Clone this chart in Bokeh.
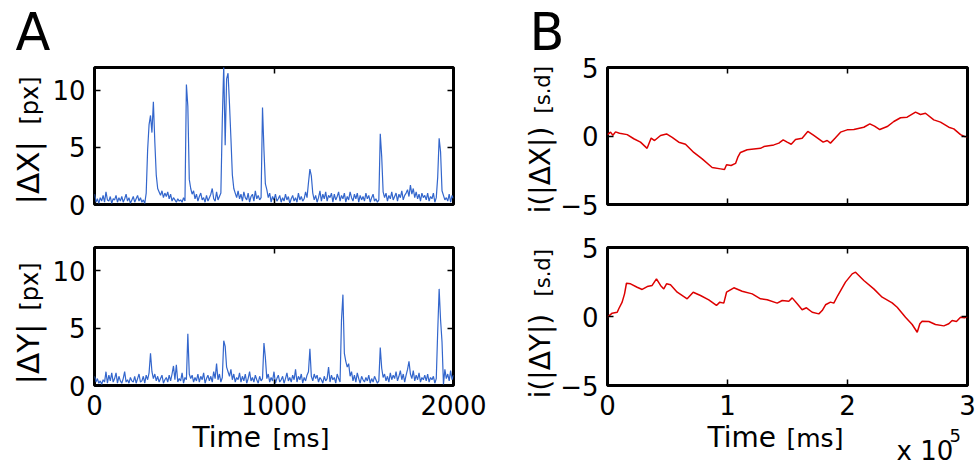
import numpy as np
from bokeh.plotting import figure
from bokeh.layouts import column, row
from bokeh.models import LinearAxis, FixedTicker, Range1d
from bokeh.core.properties import value
from bokeh.embed import file_html
from bokeh.resources import INLINE

FONT = "DejaVu Sans"
BLUE = "#3366cc"
RED = "#dd0000"

# ---------------- data ----------------
sample_step_ms = 8   # |dX|, |dY| sampled every 8 ms, 0..2000 ms

dx_abs = [
    0.9, 0.2, 0.5, 0.1, 0.6, 0.3, 0.8, 0.2, 1.1, 0.4,
    0.3, 0.7, 0.1, 0.5, 0.4, 0.8, 0.2, 0.6, 0.3, 0.7,
    0.2, 0.5, 0.9, 0.3, 0.6, 0.1, 0.4, 0.7, 0.2, 0.5,
    0.8, 0.3, 0.6, 0.2, 0.4, 0.1, 1.0, 4.8, 7.0, 7.8,
    6.3, 9.0, 5.5, 2.6, 1.4, 1.1, 0.8, 1.2, 0.6, 1.0,
    0.7, 1.1, 0.5, 0.9, 0.3, 0.6, 0.4, 0.2, 0.5, 0.3,
    0.4, 0.2, 0.6, 0.3, 10.5, 8.6, 2.2, 1.4, 0.9, 1.2,
    0.5, 0.9, 0.3, 0.7, 1.0, 0.4, 0.6, 0.2, 0.8, 0.3,
    0.6, 0.9, 1.4, 0.5, 0.3, 1.1, 0.4, 0.7, 1.0, 7.4,
    12.2, 5.2, 11.0, 11.5, 8.8, 5.8, 2.6, 1.4, 1.0, 0.6,
    1.2, 0.5, 0.9, 0.3, 1.1, 0.6, 0.4, 1.0, 0.2, 0.7,
    0.9, 0.3, 1.2, 0.5, 0.8, 0.4, 0.6, 8.5, 4.8, 1.8,
    1.3, 0.6, 1.0, 0.2, 0.7, 0.4, 0.9, 0.3, 0.5, 0.8,
    0.2, 0.6, 0.3, 0.9, 0.4, 0.7, 0.1, 0.5, 0.8, 0.3,
    0.6, 0.2, 1.0, 0.4, 0.7, 0.3, 0.5, 1.1, 0.6, 1.9,
    3.1, 2.5, 1.0, 0.4, 0.8, 0.2, 0.6, 1.2, 0.3, 0.9,
    0.5, 1.1, 0.3, 0.8, 0.6, 1.0, 0.2, 0.9, 0.4, 0.7,
    1.1, 0.3, 0.8, 0.5, 1.0, 0.2, 0.7, 0.4, 1.1, 0.6,
    0.3, 0.9, 0.5, 1.0, 0.2, 0.8, 0.4, 0.7, 0.3, 1.0,
    0.5, 0.8, 0.2, 0.6, 0.9, 0.3, 0.5, 0.2, 0.4, 6.2,
    4.2, 1.1, 0.6, 1.0, 0.3, 0.8, 0.5, 1.1, 0.4, 0.7,
    1.0, 0.3, 0.9, 0.6, 1.2, 0.4, 0.8, 1.0, 1.3, 0.7,
    1.7, 0.9, 1.4, 0.6, 1.1, 0.5, 0.9, 0.3, 1.0, 0.6,
    0.8, 0.4, 1.0, 0.3, 0.7, 0.5, 1.0, 0.2, 0.6, 2.4,
    5.8, 4.6, 1.2, 0.8, 0.4, 0.6, 0.3, 0.9, 0.2, 0.8,
    0.5,
]

dy_abs = [
    0.8, 0.3, 0.6, 0.2, 0.4, 0.1, 0.5, 0.3, 1.2, 0.2,
    0.9, 0.4, 1.1, 0.3, 0.6, 1.1, 0.2, 0.8, 0.4, 0.2,
    0.6, 1.2, 0.3, 0.5, 0.2, 0.7, 0.4, 0.3, 0.8, 0.2,
    0.6, 1.0, 0.3, 0.4, 0.8, 0.2, 0.9, 0.5, 1.1, 2.8,
    1.2, 0.6, 1.0, 0.4, 0.8, 0.3, 0.6, 0.9, 0.2, 0.5,
    0.7, 0.3, 0.9, 0.4, 1.0, 1.7, 0.5, 1.8, 0.3, 0.6,
    0.4, 1.1, 0.2, 0.7, 0.5, 4.5, 1.0, 0.6, 0.9, 0.3,
    0.7, 0.4, 1.0, 0.3, 0.8, 0.5, 1.1, 0.2, 0.6, 0.9,
    0.4, 0.8, 0.3, 1.2, 0.6, 1.9, 0.5, 1.0, 0.3, 0.7,
    3.9, 3.4, 1.6, 1.2, 0.8, 1.4, 0.5, 1.0, 0.3, 0.7,
    0.5, 1.1, 0.3, 0.8, 0.4, 1.0, 0.2, 0.6, 1.2, 0.4,
    0.7, 0.3, 0.9, 0.5, 0.2, 0.8, 0.4, 0.6, 3.7, 2.4,
    0.6, 1.0, 0.3, 0.7, 0.4, 1.2, 0.2, 0.6, 0.9, 0.3,
    0.5, 0.8, 0.2, 0.6, 1.1, 0.4, 0.7, 0.3, 0.9, 0.5,
    1.4, 0.3, 0.8, 0.5, 1.0, 0.2, 0.7, 0.4, 0.9, 1.2,
    3.2, 0.8, 0.4, 1.0, 0.6, 0.9, 0.3, 0.7, 0.5, 0.2,
    0.8, 0.4, 0.6, 1.6, 0.3, 0.9, 0.5, 0.7, 0.2, 1.0,
    0.6, 0.3, 5.7, 7.9, 2.8, 2.1, 1.6, 1.9, 0.8, 1.2,
    0.4, 0.9, 0.3, 1.1, 0.6, 0.2, 0.8, 0.5, 0.3, 0.7,
    0.4, 0.9, 0.2, 0.6, 0.3, 0.8, 0.5, 0.2, 0.4, 3.3,
    1.5, 0.7, 1.0, 0.4, 0.8, 0.3, 1.1, 0.5, 0.9, 0.6,
    1.2, 0.4, 0.8, 1.3, 0.5, 1.0, 0.3, 0.9, 1.4, 2.1,
    1.0, 0.6, 1.3, 0.4, 0.9, 0.5, 1.1, 0.3, 0.7, 0.5,
    0.9, 0.4, 1.0, 0.3, 0.7, 0.5, 0.8, 0.2, 0.6, 4.7,
    8.4, 5.7, 3.8, 0.1, 1.4, 0.6, 1.0, 0.4, 1.3, 0.5,
    0.9,
]

ix_t = [0, 2500, 4500, 6700, 10000, 16400, 21900, 27500, 33000, 36400,
        39200, 44200, 49200, 53900, 59400, 65000, 71900, 78900, 87200, 94200,
        97500, 99200, 103000, 106700, 108600, 110800, 116400, 127500, 130300, 138600,
        142800, 146400, 149700, 153100, 156700, 162200, 166900, 171900, 179700, 183100,
        185800, 190000, 194200, 199700, 205300, 213600, 218600, 222500, 226900, 233100,
        238600, 244200, 249700, 256700, 260800, 265000, 271900, 277500, 284400, 288600,
        294200, 297500, 300000]
ix_v = [0.1, 0.28, 0.05, 0.3, 0.2, 0.1, -0.2, -0.45, -0.9, -0.15,
        -0.33, 0.04, 0.15, -0.1, -0.45, -0.6, -1.2, -1.67, -2.3, -2.4,
        -2.45, -2.1, -2.15, -2.0, -1.55, -1.2, -1.0, -0.9, -0.77, -0.65,
        -0.52, -0.28, -0.45, -0.6, -0.26, -0.16, 0.33, 0.04, -0.45, -0.33,
        -0.52, -0.13, 0.28, 0.45, 0.47, 0.64, 0.89, 0.72, 0.47, 0.69,
        1.06, 1.33, 1.37, 1.74, 1.57, 1.66, 1.18, 1.01, 0.64, 0.52,
        0.1, -0.04, -0.05]

iy_t = [0, 3900, 8100, 9400, 12200, 14200, 15800, 19200, 24700, 28900,
        33100, 37200, 40800, 44200, 46900, 49200, 52500, 58100, 66400, 71400,
        77500, 84400, 90800, 93600, 96900, 99200, 105300, 112200, 120600, 127500,
        133100, 141400, 145600, 151100, 153900, 158100, 162200, 165800, 170600, 176100,
        178900, 181700, 185800, 188600, 191900, 198300, 203900, 206700, 213600, 221900,
        228900, 237200, 241400, 248300, 253900, 258100, 260300, 262200, 267800, 273300,
        280300, 284400, 287200, 290800, 294200, 297500, 300000]
iy_v = [-0.05, 0.24, 0.31, 0.56, 1.04, 1.64, 2.41, 2.37, 2.12, 1.96,
        2.17, 2.25, 2.73, 2.25, 2.0, 2.37, 2.3, 1.76, 1.28, 1.76,
        1.52, 1.21, 0.8, 1.04, 0.97, 1.76, 2.08, 1.83, 1.64, 1.28,
        1.21, 0.97, 1.16, 1.11, 1.35, 0.92, 0.49, 0.63, 0.31, 0.19,
        0.43, 0.85, 1.04, 0.97, 1.52, 2.49, 3.09, 3.21, 2.61, 2.0,
        1.4, 0.99, 0.67, -0.05, -0.58, -1.14, -0.53, -0.34, -0.36, -0.58,
        -0.68, -0.53, -0.29, -0.36, -0.05, -0.1, 0.0]

a_x_ticks = [0, 1000, 2000]
a_y_ticks = [0, 5, 10]
b_x_ticks = [0, 100000, 200000, 300000]
b_x_tick_labels = {0: "0", 100000: "1", 200000: "2", 300000: "3"}
b_y_ticks = [-5, 0, 5]
b_y_tick_labels = {-5: "\u22125", 0: "0", 5: "5"}

t_ms = np.arange(len(dx_abs)) * sample_step_ms


# ---------------- helpers ----------------
def style_axis(ax, ticks, show, overrides=None):
    ax.ticker = FixedTicker(ticks=ticks)
    ax.axis_line_color = None
    ax.major_tick_in = 6
    ax.major_tick_out = 0
    ax.major_tick_line_color = "black"
    ax.major_tick_line_width = 1.5
    ax.minor_tick_line_color = None
    if show:
        ax.major_label_text_font = FONT
        ax.major_label_text_font_size = "26px"
        ax.major_label_text_color = "black"
        ax.major_label_standoff = 9
        if overrides:
            ax.major_label_overrides = overrides
    else:
        ax.major_label_text_font_size = "1px"
        ax.major_label_text_color = None
        ax.major_label_standoff = 0


def make_panel(width, height, fl, ft, fw, fh, xr, yr, xt, yt, show_x, xo=None, yo=None):
    p = figure(width=width, height=height, x_range=Range1d(*xr), y_range=Range1d(*yr),
               output_backend="svg", toolbar_location=None,
               min_border_left=fl, min_border_top=ft,
               min_border_right=width - fl - fw, min_border_bottom=height - ft - fh)
    p.xgrid.visible = False
    p.ygrid.visible = False
    p.outline_line_color = "black"
    p.outline_line_width = 3
    p.add_layout(LinearAxis(), "above")
    p.add_layout(LinearAxis(), "right")
    style_axis(p.below[0], xt, show_x, xo)
    style_axis(p.above[0], xt, False)
    style_axis(p.left[0], yt, True, yo)
    style_axis(p.right[0], yt, False)
    return p


BASELINE_SHIFT = 0.35   # glyph text sits this many em below the requested baseline


def add_text(p, frame, sx, sy, text, size_px, angle=0.0):
    # position (baseline start) given in page pixels, converted to data coordinates
    L, T, W, H, (x0, x1), (y0, y1) = frame
    sx = sx - BASELINE_SHIFT * size_px * np.sin(angle)
    sy = sy - BASELINE_SHIFT * size_px * np.cos(angle)
    x = x0 + (sx - L) / W * (x1 - x0)
    y = y1 - (sy - T) / H * (y1 - y0)
    p.text(x=[x], y=[y], text=[text], angle=angle, text_font=value(FONT),
           text_font_size=value(f"{size_px}px"), text_align="left",
           text_baseline="alphabetic", text_color="black", level="overlay")


# frames in page pixels: left, top, width, height, x range, y range
F_TL = (94, 67, 359, 137, (0, 2000), (0, 12))
F_BL = (94, 247, 359, 138, (0, 2000), (0, 12))
F_TR = (607, 67, 360, 137, (0, 300000), (-5, 5))
F_BR = (607, 247, 360, 138, (0, 300000), (-5, 5))

tl = make_panel(498, 225, 94, 67, 359, 137, (0, 2000), (0, 12), a_x_ticks, a_y_ticks, False)
bl = make_panel(498, 241, 94, 22, 359, 138, (0, 2000), (0, 12), a_x_ticks, a_y_ticks, True)
tr = make_panel(480, 225, 109, 67, 360, 137, (0, 300000), (-5, 5), b_x_ticks, b_y_ticks, False,
                None, b_y_tick_labels)
br = make_panel(480, 241, 109, 22, 360, 138, (0, 300000), (-5, 5), b_x_ticks, b_y_ticks, True,
                b_x_tick_labels, b_y_tick_labels)

tl.line(t_ms, dx_abs, line_color=BLUE, line_width=1.2)
bl.line(t_ms, dy_abs, line_color=BLUE, line_width=1.2)
tr.line(ix_t, ix_v, line_color=RED, line_width=1.5)
br.line(iy_t, iy_v, line_color=RED, line_width=1.5)

UP = np.pi / 2
# panel letters
add_text(tl, F_TL, 15, 50, "A", 51)
add_text(tr, F_TR, 529, 50, "B", 51)
# y labels
add_text(tl, F_TL, 38, 204, "|\u0394X|", 31, UP)
add_text(tl, F_TL, 38, 124, "[px]", 24, UP)
add_text(bl, F_BL, 38, 384, "|\u0394Y|", 31, UP)
add_text(bl, F_BL, 38, 310, "[px]", 24, UP)
add_text(tr, F_TR, 550, 213, "i(|\u0394X|)", 28, UP)
add_text(tr, F_TR, 550, 113, "[s.d]", 21, UP)
add_text(br, F_BR, 550, 398, "i(|\u0394Y|)", 28, UP)
add_text(br, F_BR, 550, 296, "[s.d]", 21, UP)
# x labels
add_text(bl, F_BL, 192, 447, "Time", 28)
add_text(bl, F_BL, 272, 447, "[ms]", 25)
add_text(br, F_BR, 707, 447, "Time", 28)
add_text(br, F_BR, 786, 447, "[ms]", 25)
add_text(br, F_BR, 896, 460, "x 10", 26)
add_text(br, F_BR, 949, 441, "5", 18)

layout = column(row(tl, tr), row(bl, br))

open("out.html", "w").write(file_html(layout, INLINE))
